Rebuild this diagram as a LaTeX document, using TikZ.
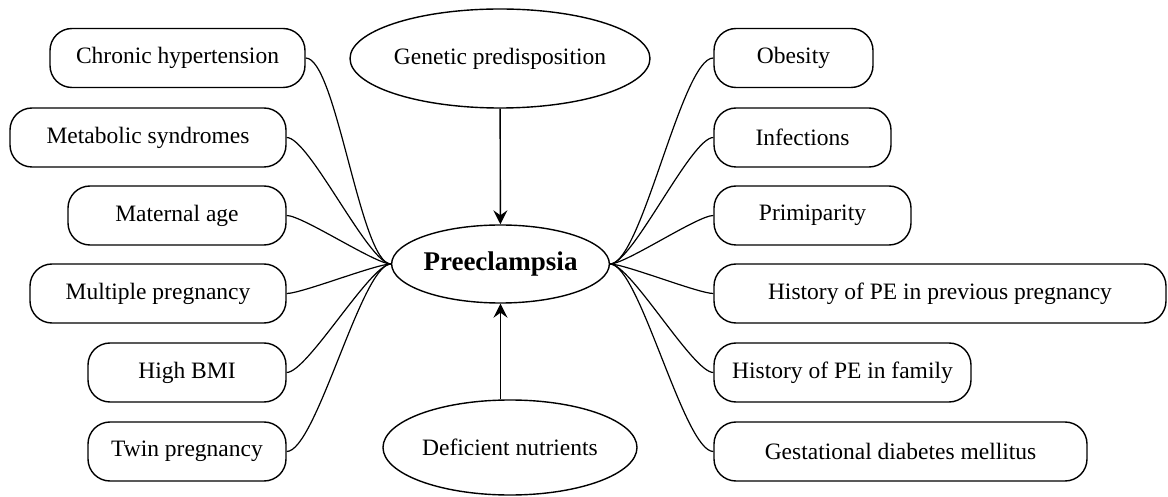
\documentclass[tikz,border=0pt]{standalone}
\usepackage{fontspec}
\setmainfont{Liberation Serif}
\usepackage{tikz}
\usetikzlibrary{shapes.geometric}
\usetikzlibrary{arrows.meta}
\tikzset{x=0.5pt, y=-0.5pt,
factor/.style={ % Sets the properties for each risk factor box
draw, line width=0.7pt,
rounded corners=11pt,
minimum height=29.5pt,
inner sep=0pt,
font=\fontsize{11.75}{14}\selectfont},
bubble/.style={ % Ellipses in the middle column
draw, ellipse, line width=0.7pt,
inner sep=0pt,
font=\fontsize{11.75}{14}\selectfont},
every edge/.style={ % Curved links into the centre
draw,
line width=0.6pt,
out=0, in=180,
looseness=0.35},
feed/.style={ % Straight arrows of the middle column
draw, line width=0.7pt,
-{Stealth[length=7pt, width=7pt, inset=2.5pt]}}}

\begin{document}
\begin{tikzpicture}
\useasboundingbox (0,0) rectangle (1168,497);
% centre column
\node[bubble, minimum width=137pt, minimum height=49.5pt] (gen) at (500,58.5) {Genetic predisposition};
\node[bubble, minimum width=97.5pt, minimum height=39pt, font=\fontsize{13.5}{16}\selectfont\bfseries] (pre) at (500.5,264) {Preeclampsia};
\node[bubble, minimum width=127pt, minimum height=47.5pt] (def) at (510,447.5) {Deficient nutrients};
% left column
\node[factor, minimum width=127.5pt] (ch) at (177.5,58) {Chronic hypertension};
\node[factor, minimum width=138pt] (ms) at (148,137.5) {Metabolic syndromes};
\node[factor, minimum width=109pt] (ma) at (177,215.5) {Maternal age};
\node[factor, minimum width=128pt] (mp) at (158,293.5) {Multiple pregnancy};
\node[factor, minimum width=99pt] (hb) at (187,372.5) {High BMI};
\node[factor, minimum width=99pt] (tp) at (187,451.5) {Twin pregnancy};
% right column
\node[factor, minimum width=79.5pt] (ob) at (793.5,58) {Obesity};
\node[factor, minimum width=88.5pt] (inf) at (802.5,137.5) {Infections};
\node[factor, minimum width=98.5pt] (pr) at (812.5,215.5) {Primiparity};
\node[factor, minimum width=226pt] (hp) at (940,293.5) {History of PE in previous pregnancy};
\node[factor, minimum width=128.5pt] (hf) at (842.5,372.5) {History of PE in family};
\node[factor, minimum width=186.5pt] (gd) at (900.5,451.5) {Gestational diabetes mellitus};
% arrows
\draw[feed] (gen) -- (pre);
\draw[feed] (def.north -| pre.south) -- (pre.south);
\draw (ch.east) edge (pre.west);
\draw (ms.east) edge (pre.west);
\draw (ma.east) edge (pre.west);
\draw (mp.east) edge (pre.west);
\draw (hb.east) edge (pre.west);
\draw (tp.east) edge (pre.west);
\draw (pre.east) edge (ob.west);
\draw (pre.east) edge (inf.west);
\draw (pre.east) edge (pr.west);
\draw (pre.east) edge (hp.west);
\draw (pre.east) edge (hf.west);
\draw (pre.east) edge (gd.west);
\end{tikzpicture}
\end{document}
